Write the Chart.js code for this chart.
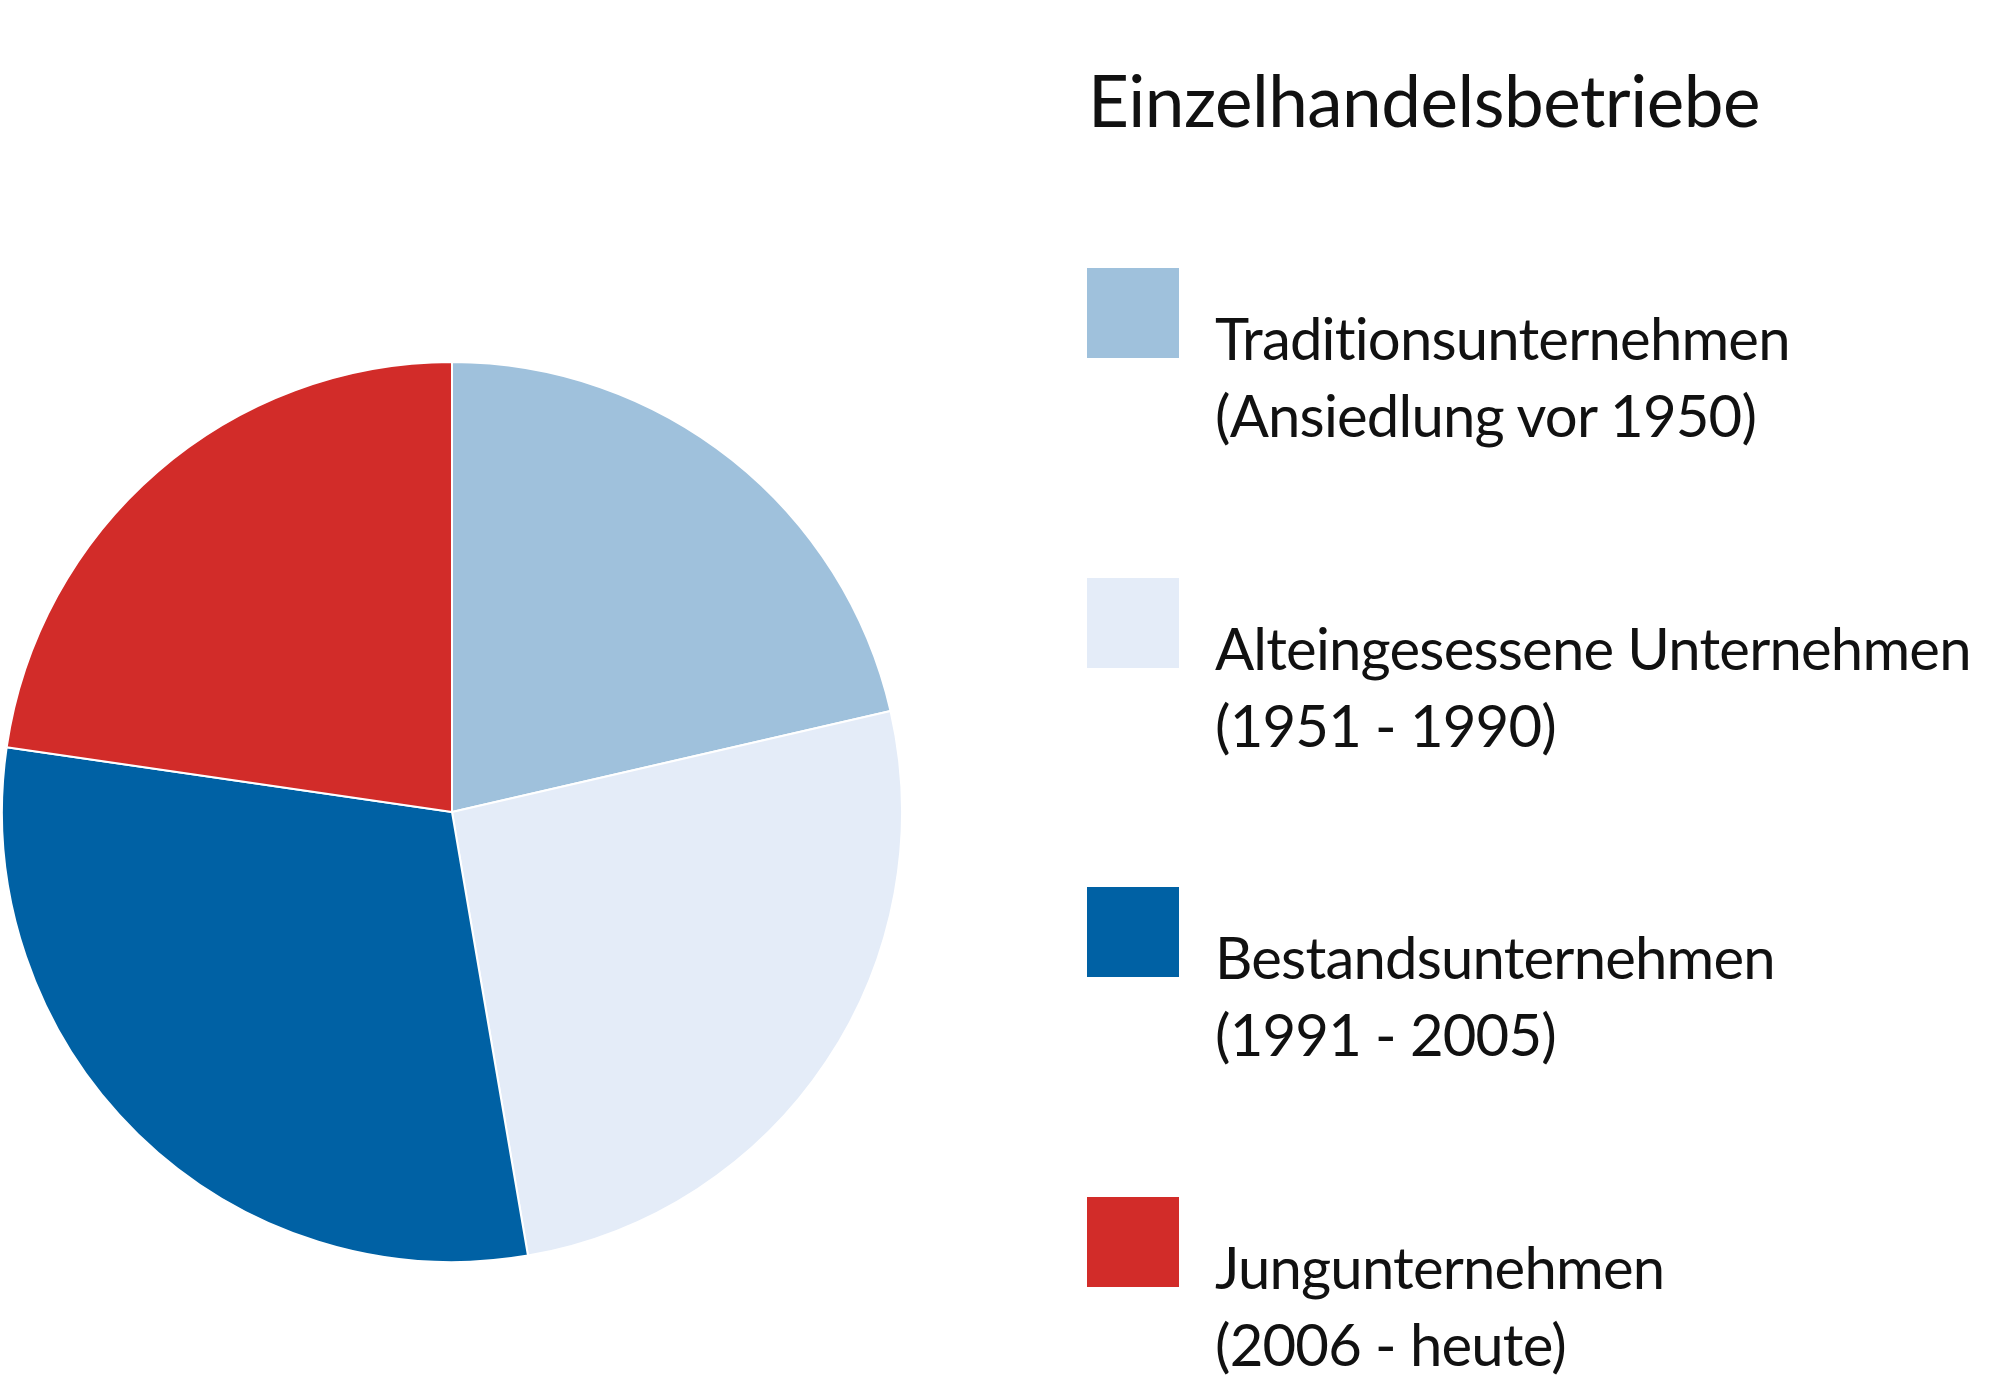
<!DOCTYPE html>
<html lang="de">
<head>
<meta charset="UTF-8">
<title>Einzelhandelsbetriebe</title>
<script src="https://cdn.jsdelivr.net/npm/chart.js@4"></script>
<style>
  * { margin: 0; padding: 0; box-sizing: border-box; }
  body { width: 2000px; height: 1385px; background: #fff; position: relative; overflow: hidden; font-family: Lato, 'Open Sans', sans-serif; color: #111; font-variant-ligatures: none; }
  #pieWrap { position: absolute; left: 1px; top: 361px; width: 902px; height: 902px; }
  #legendTitle { position: absolute; left: 1088px; top: 64px; font-size: 71px; line-height: 1; letter-spacing: -0.5px; white-space: nowrap; }
  .item { position: absolute; left: 1087px; width: 900px; height: 200px; }
  .item .box { position: absolute; left: 0; top: 0; width: 92px; height: 90px; }
  .item .txt { position: absolute; left: 128px; top: 31px; font-size: 58px; line-height: 77px; letter-spacing: -0.8px; white-space: nowrap; }
</style>
</head>
<body>
<div id="legendTitle">Einzelhandelsbetriebe</div>
<div id="legend"></div>
<div id="pieWrap"><canvas id="pie"></canvas></div>

<script>
  // Anteile der Einzelhandelsbetriebe nach Ansiedlungszeitraum (Werte aus der Grafik geschätzt, in %)
  const categories = ['Traditionsunternehmen', 'Alteingesessene Unternehmen', 'Bestandsunternehmen', 'Jungunternehmen'];
  const periods = ['(Ansiedlung vor 1950)', '(1951 - 1990)', '(1991 - 2005)', '(2006 - heute)'];
  const shares = [21.4, 25.9, 30.0, 22.7];
  const colors = ['#9fc1dc', '#e4ecf8', '#0061a4', '#d22c29'];

  // Legende aus denselben Arrays aufbauen
  const legend = document.getElementById('legend');
  categories.forEach((cat, i) => {
    const item = document.createElement('div');
    item.className = 'item';
    item.style.top = (268 + i * 309.5) + 'px';
    item.innerHTML = `<div class="box" style="background:${colors[i]}"></div>` +
      `<div class="txt">${cat}<br>${periods[i]}</div>`;
    legend.appendChild(item);
  });

  new Chart(document.getElementById('pie'), {
    type: 'pie',
    data: {
      labels: categories,
      datasets: [{
        data: shares,
        backgroundColor: colors,
        borderColor: '#ffffff',
        borderWidth: 2
      }]
    },
    options: {
      responsive: true,
      maintainAspectRatio: false,
      animation: false,
      layout: { padding: 0 },
      plugins: { legend: { display: false }, tooltip: { enabled: false } }
    }
  });
</script>
</body>
</html>
